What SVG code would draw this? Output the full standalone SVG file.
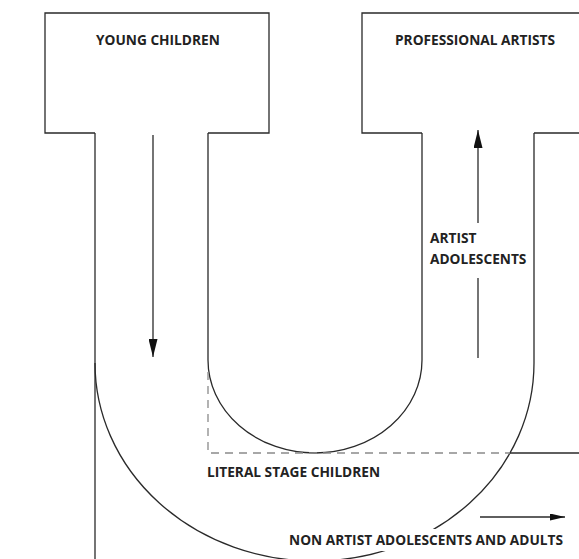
<svg xmlns="http://www.w3.org/2000/svg" width="579" height="559" viewBox="0 0 579 559">
<style>
.ln{fill:none;stroke:#2a2a2a;stroke-width:1.3}
.ds{fill:none;stroke:#8a8a8a;stroke-width:1.3;stroke-dasharray:8 6}
.t{font-family:"Open Sans","Liberation Sans",sans-serif;font-weight:700;font-size:13.7px;fill:#222}
</style>
<defs>
<marker id="ah" viewBox="0 0 10 10" refX="10" refY="5" markerWidth="18" markerHeight="9" markerUnits="userSpaceOnUse" orient="auto" preserveAspectRatio="none">
<path d="M0,0 L10,5 L0,10 Z" fill="#111"/>
</marker>
<marker id="ah2" viewBox="0 0 10 10" refX="10" refY="5" markerWidth="15" markerHeight="7" markerUnits="userSpaceOnUse" orient="auto" preserveAspectRatio="none">
<path d="M0,0 L10,5 L0,10 Z" fill="#111"/>
</marker>
</defs>
<rect width="579" height="559" fill="#fff"/>
<g id="young-children">
<path class="ln" d="M208,133 H269 V13 H45 V133 H95"/>
<text class="t" x="96" y="45">YOUNG CHILDREN</text>
</g>
<g id="professional-artists">
<path class="ln" d="M422,133 H362 V13 H580 M534,133 H580"/>
<text class="t" x="395" y="45">PROFESSIONAL ARTISTS</text>
</g>
<g id="u-channel">
<path class="ln" d="M95,133 V560"/>
<path class="ln" d="M95,363 A219.5,198 0 0 0 534,363 V133"/>
<path class="ln" d="M208,133 V360 A107,93 0 0 0 422,360 V133"/>
</g>
<g id="literal-stage-children">
<path class="ds" d="M208,372 V453 H510"/>
<path class="ln" d="M510,453 H580"/>
<text class="t" x="207" y="477">LITERAL STAGE CHILDREN</text>
</g>
<g id="artist-adolescents">
<text class="t" x="430" y="243">ARTIST</text>
<text class="t" x="430" y="264">ADOLESCENTS</text>
</g>
<g id="non-artist">
<rect x="285" y="529" width="286" height="22" fill="#fff"/>
<text class="t" x="289" y="545">NON ARTIST ADOLESCENTS AND ADULTS</text>
</g>
<g id="connectors">
<path class="ln" d="M153,135 V357" marker-end="url(#ah)"/>
<path class="ln" d="M478,223 V130" marker-end="url(#ah)"/>
<path class="ln" d="M478,278 V358"/>
<path class="ln" d="M480,517 H565" marker-end="url(#ah2)"/>
</g>
</svg>
